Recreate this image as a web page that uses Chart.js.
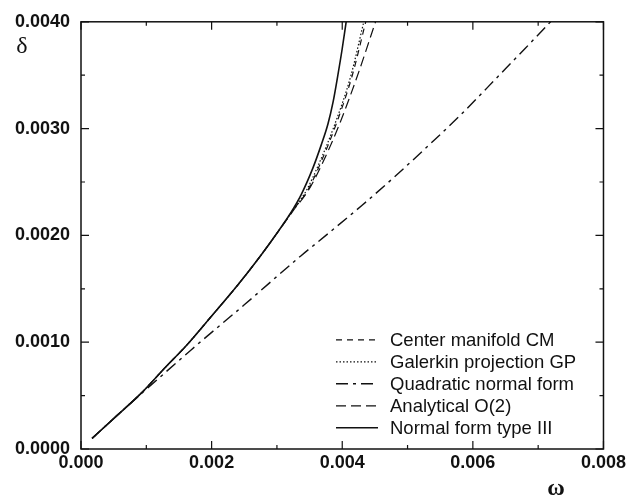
<!DOCTYPE html>
<html>
<head>
<meta charset="utf-8">
<script src="https://cdn.jsdelivr.net/npm/chart.js@4/dist/chart.umd.min.js"></script>
<style>
  html, body { margin: 0; padding: 0; background: #fff; }
  #wrap { width: 629px; height: 502px; }
</style>
</head>
<body>
<div id="wrap"><canvas id="bifChart" width="629" height="502"></canvas></div>
<script>
// series labels, in legend order
const seriesLabels = [
    'Center manifold CM',
    'Galerkin projection GP',
    'Quadratic normal form',
    'Analytical O(2)',
    'Normal form type III'
];

// omega / delta values
const cmOmega = [0.00017, 0.0005, 0.00095, 0.0013, 0.0016, 0.0020, 0.0024, 0.00275, 0.0030, 0.00325, 0.00347, 0.00367, 0.0039, 0.00415, 0.00436];
const cmDelta = [0.00010, 0.000285, 0.00054, 0.00077, 0.00096, 0.001245, 0.001535, 0.00181, 0.00202, 0.00224, 0.00242, 0.00268, 0.00303, 0.00349, 0.00400];

const gpOmega = [0.00017, 0.0005, 0.00095, 0.0013, 0.0016, 0.0020, 0.0024, 0.00275, 0.0030, 0.00325, 0.00345, 0.00365, 0.00388, 0.00413, 0.00433];
const gpDelta = [0.00010, 0.000285, 0.00054, 0.00077, 0.00096, 0.001245, 0.001535, 0.00181, 0.00202, 0.00224, 0.00242, 0.00268, 0.00303, 0.00349, 0.00400];

const qnfOmega = [0.00017, 0.0005, 0.0009, 0.00169, 0.0025, 0.00337, 0.00375, 0.0043, 0.00484, 0.0053, 0.0058, 0.00642, 0.0068, 0.00719];
const qnfDelta = [0.00010, 0.000285, 0.000505, 0.00093, 0.00135, 0.00181, 0.00200, 0.00228, 0.00257, 0.00283, 0.00312, 0.00351, 0.00375, 0.00400];

const anOmega = [0.00017, 0.0005, 0.00095, 0.0013, 0.0016, 0.0020, 0.0024, 0.00275, 0.0030, 0.00326, 0.00348, 0.0037, 0.00395, 0.00423, 0.00451];
const anDelta = [0.00010, 0.000285, 0.00054, 0.00077, 0.00096, 0.001245, 0.001535, 0.00181, 0.00202, 0.00224, 0.00242, 0.00268, 0.00303, 0.00349, 0.00400];

const nfOmega = [0.00017, 0.0005, 0.00095, 0.0013, 0.0016, 0.0020, 0.0024, 0.00275, 0.0030, 0.0032, 0.00337, 0.00355, 0.00368, 0.00378, 0.00386, 0.00393, 0.0040, 0.00406];
const nfDelta = [0.00010, 0.000285, 0.00054, 0.00077, 0.00096, 0.001245, 0.001535, 0.00181, 0.00202, 0.00220, 0.00238, 0.00263, 0.00285, 0.00304, 0.00325, 0.00349, 0.00375, 0.00400];

// axis ticks
const xTicks = [0, 0.002, 0.004, 0.006, 0.008];
const yTicks = [0, 0.001, 0.002, 0.003, 0.004];

function toPoints(xs, ys) {
    return xs.map((x, i) => ({ x: x, y: ys[i] }));
}

const tickFont = { family: "'Liberation Sans', Arial, sans-serif", size: 18, weight: 'bold' };

// frame, mirrored inward ticks, axis symbols and the legend
const framePlugin = {
    id: 'frame',
    afterDatasetsDraw(chart) {
        const ctx = chart.ctx;
        const area = chart.chartArea;
        const xs = chart.scales.x, ys = chart.scales.y;
        ctx.save();
        ctx.strokeStyle = '#111';
        ctx.lineWidth = 1.5;
        ctx.setLineDash([]);
        ctx.strokeRect(area.left, area.top, area.right - area.left, area.bottom - area.top);

        ctx.lineWidth = 1.2;
        ctx.beginPath();
        for (let v = 0; v <= 0.0080001; v += 0.001) {
            const px = xs.getPixelForValue(v);
            const len = (Math.round(v / 0.001) % 2 === 0) ? 8 : 4;
            ctx.moveTo(px, area.bottom); ctx.lineTo(px, area.bottom - len);
            ctx.moveTo(px, area.top); ctx.lineTo(px, area.top + len);
        }
        for (let v = 0; v <= 0.0040001; v += 0.0005) {
            const py = ys.getPixelForValue(v);
            const len = (Math.round(v / 0.0005) % 2 === 0) ? 8 : 4;
            ctx.moveTo(area.left, py); ctx.lineTo(area.left + len, py);
            ctx.moveTo(area.right, py); ctx.lineTo(area.right - len, py);
        }
        ctx.stroke();

        // axis symbols
        ctx.fillStyle = '#111';
        ctx.font = "24px 'Liberation Serif', 'DejaVu Serif', serif";
        ctx.textAlign = 'center';
        ctx.textBaseline = 'middle';
        ctx.fillText('δ', 22, 47);
        ctx.font = "bold 24px 'Liberation Serif', 'DejaVu Serif', serif";
        ctx.fillText('ω', 556, 489);

        // legend
        ctx.font = "18.5px 'Liberation Sans', Arial, sans-serif";
        ctx.textAlign = 'left';
        const lx = area.left + 255, lw = 42, tx = area.left + 309;
        chart.data.datasets.forEach((ds, i) => {
            const y = area.top + 318 + i * 22;
            ctx.beginPath();
            ctx.lineWidth = ds.borderWidth;
            ctx.setLineDash(ds.borderDash || []);
            ctx.moveTo(lx, y);
            ctx.lineTo(lx + lw, y);
            ctx.stroke();
            ctx.setLineDash([]);
            ctx.fillText(ds.label, tx, y + 1);
        });
        ctx.restore();
    }
};

const ctx = document.getElementById('bifChart').getContext('2d');

const bifChart = new Chart(ctx, {
    type: 'line',
    data: {
        datasets: [
            { label: seriesLabels[0], data: toPoints(cmOmega, cmDelta), borderDash: [6, 5], borderWidth: 1.2 },
            { label: seriesLabels[1], data: toPoints(gpOmega, gpDelta), borderDash: [1.5, 2], borderWidth: 1.2 },
            { label: seriesLabels[2], data: toPoints(qnfOmega, qnfDelta), borderDash: [12, 5, 3, 5], borderWidth: 1.4 },
            { label: seriesLabels[3], data: toPoints(anOmega, anDelta), borderDash: [10, 5], borderWidth: 1.2 },
            { label: seriesLabels[4], data: toPoints(nfOmega, nfDelta), borderDash: [], borderWidth: 1.6 }
        ].map(ds => Object.assign(ds, {
            borderColor: '#111',
            backgroundColor: '#111',
            pointRadius: 0,
            fill: false,
            cubicInterpolationMode: 'monotone'
        }))
    },
    options: {
        responsive: false,
        animation: false,
        layout: { padding: { left: 0, right: 24, top: 14, bottom: 0 } },
        plugins: {
            legend: { display: false },
            tooltip: { enabled: false }
        },
        scales: {
            x: {
                type: 'linear',
                min: 0,
                max: 0.008,
                afterBuildTicks: s => { s.ticks = xTicks.map(v => ({ value: v })); },
                afterFit: s => { s.height = 53; },
                grid: { display: false, drawTicks: false },
                border: { display: false },
                ticks: {
                    padding: 3,
                    color: '#111',
                    font: tickFont,
                    callback: v => v.toFixed(3)
                }
            },
            y: {
                type: 'linear',
                min: 0,
                max: 0.004,
                afterBuildTicks: s => { s.ticks = yTicks.map(v => ({ value: v })); },
                afterFit: s => { s.width = 81; },
                grid: { display: false, drawTicks: false },
                border: { display: false },
                ticks: {
                    padding: 11,
                    color: '#111',
                    font: tickFont,
                    callback: v => v.toFixed(4)
                }
            }
        }
    },
    plugins: [framePlugin]
});
</script>
</body>
</html>
